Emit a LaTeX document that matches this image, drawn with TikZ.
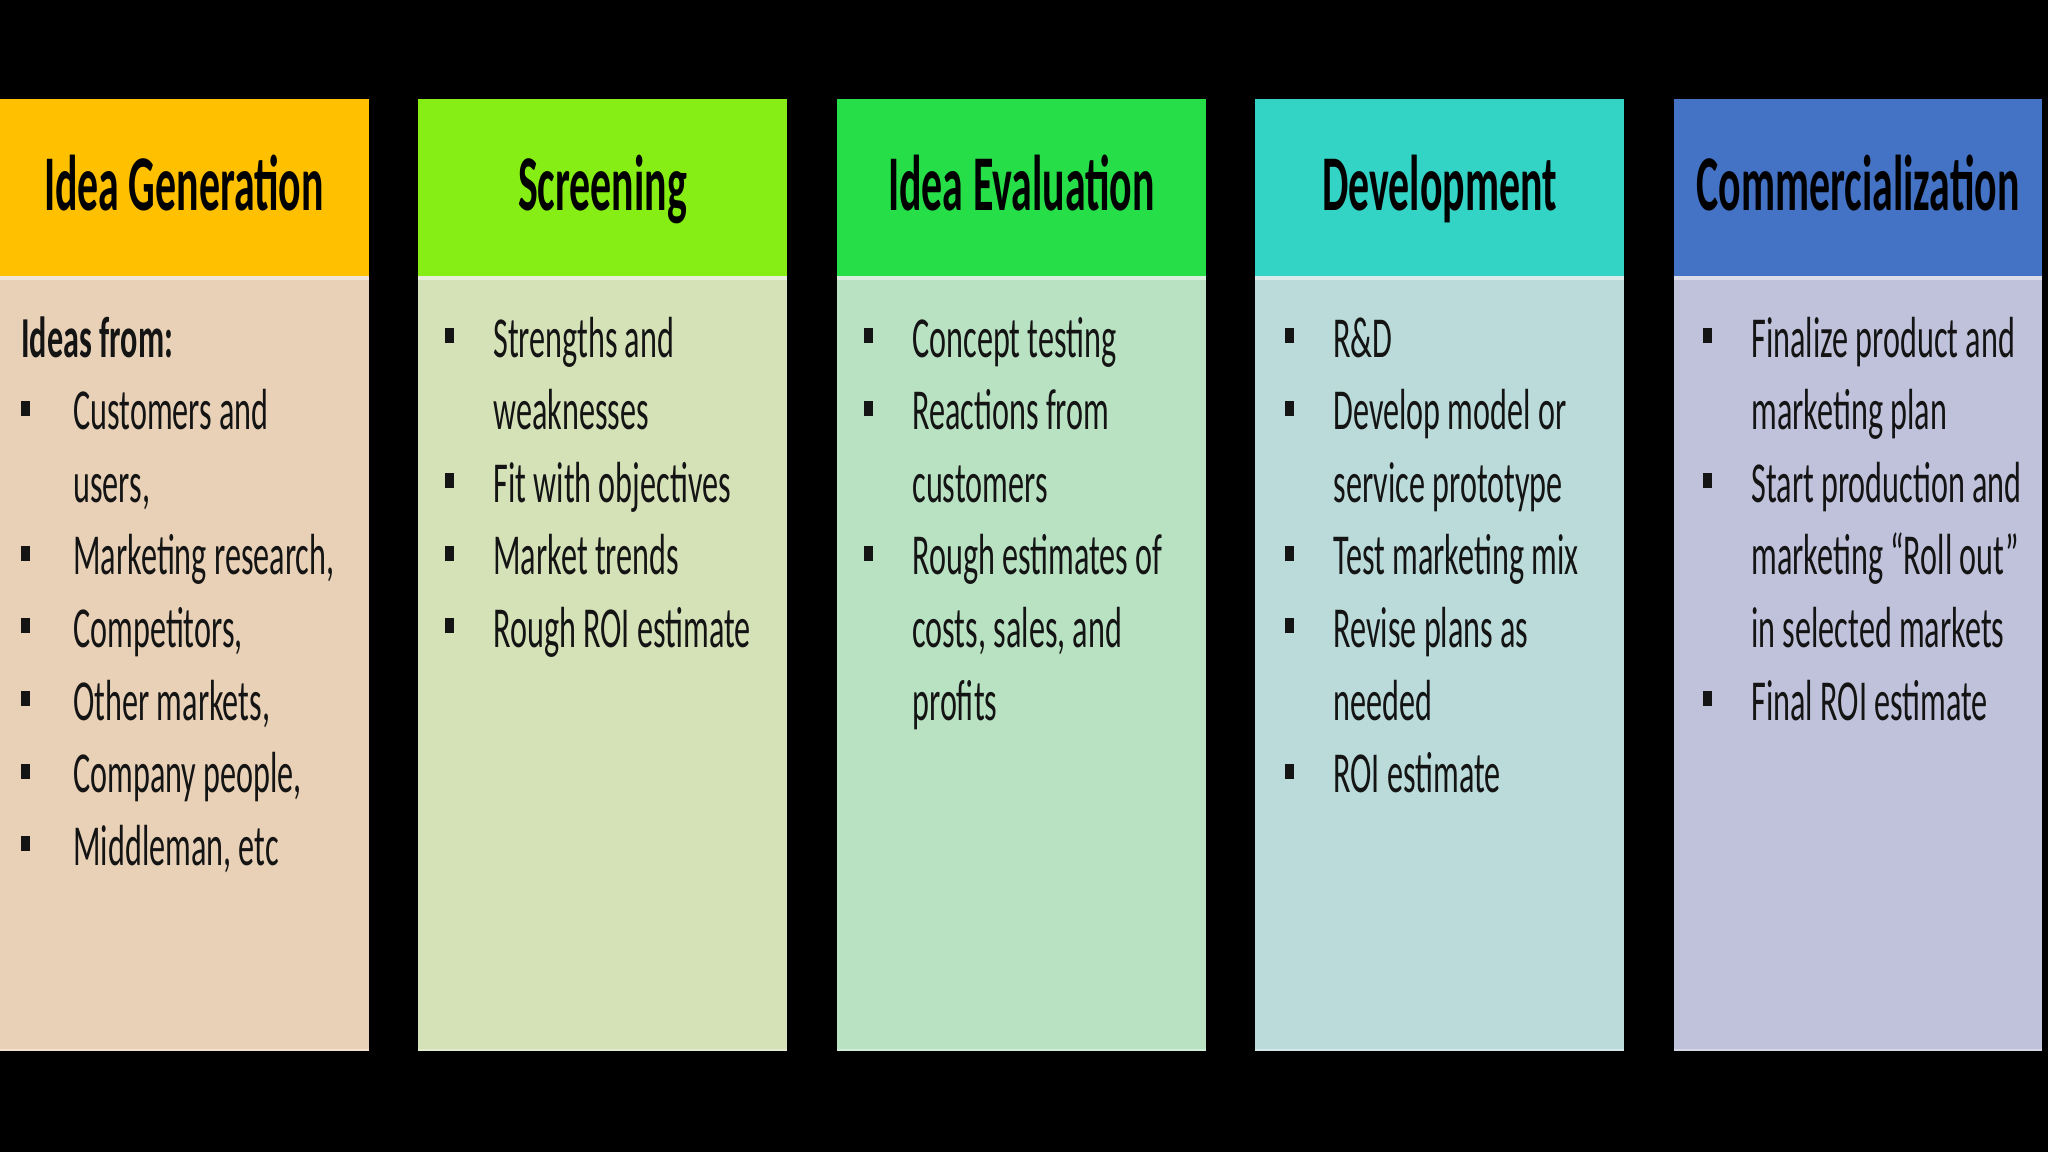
\documentclass[tikz,border=0pt]{standalone}
\usepackage{fontspec}
\newfontfamily\bodyfam[FakeStretch=0.555]{Carlito}
\newfontfamily\headfam[FakeStretch=0.53]{Carlito}
\definecolor{hA}{HTML}{FFC000}
\definecolor{hB}{HTML}{86EE14}
\definecolor{hC}{HTML}{25DE48}
\definecolor{hD}{HTML}{33D3C6}
\definecolor{hE}{HTML}{4472C4}
\definecolor{bA}{HTML}{E8D1B7}
\definecolor{bB}{HTML}{D5E2B8}
\definecolor{bC}{HTML}{B9E2C3}
\definecolor{bD}{HTML}{BADBD9}
\definecolor{bE}{HTML}{BFC2DA}
\definecolor{ink}{HTML}{141414}
\newlength\txtind \setlength\txtind{24pt}
\newcommand\bsq{\raisebox{7pt}{\rule{4.5pt}{7.5pt}}}
\newcommand\bitem[1]{\spaceskip=0pt\xspaceskip=0pt\hangindent=\txtind\hangafter=1\noindent\makebox[\txtind][l]{\bsq}#1\par}
\tikzset{
  hbox/.style={rectangle, inner sep=0, minimum height=88.5pt},
  bbox/.style={rectangle, inner sep=0, minimum height=387.5pt},
  title/.style={anchor=base, inner sep=0, font=\headfam\bfseries\fontsize{39.5}{45}\selectfont, text=black},
  btext/.style={anchor=base west, inner sep=0, text width=182pt, align=left,
     font=\bodyfam\fontsize{29}{36.3}\selectfont, text=ink},
  stripe/.style={white, opacity=0.45, line width=2pt}
}
\begin{document}
\begin{tikzpicture}[x=0.5pt,y=-0.5pt]
\fill[black] (0,0) rectangle (2048,1152);
\useasboundingbox (0,0) rectangle (2048,1152);
% column boxes
\node[hbox, fill=hA, minimum width=187pt] (h1) at (182,187.5) {};
\node[hbox, fill=hB, minimum width=184.5pt] (h2) at (602.5,187.5) {};
\node[hbox, fill=hC, minimum width=184.5pt] (h3) at (1021.5,187.5) {};
\node[hbox, fill=hD, minimum width=184.5pt] (h4) at (1439.5,187.5) {};
\node[hbox, fill=hE, minimum width=184pt] (h5) at (1858,187.5) {};
\node[bbox, fill=bA, minimum width=187pt] (b1) at (182,663.5) {};
\node[bbox, fill=bB, minimum width=184.5pt] (b2) at (602.5,663.5) {};
\node[bbox, fill=bC, minimum width=184.5pt] (b3) at (1021.5,663.5) {};
\node[bbox, fill=bD, minimum width=184.5pt] (b4) at (1439.5,663.5) {};
\node[bbox, fill=bE, minimum width=184pt] (b5) at (1858,663.5) {};
\foreach \i in {1,...,5}{
  \draw[stripe] ([yshift=-1pt]b\i.north west) -- ([yshift=-1pt]b\i.north east);
  \draw[white, opacity=0.35, line width=1pt] ([yshift=0.5pt]b\i.south west) -- ([yshift=0.5pt]b\i.south east);
}
% titles
\node[title] (t1) at (184,210) {Idea Generation};
\node[title] (t2) at (602.5,210) {Screening};
\node[title] (t3) at (1021.5,210) {Idea Evaluation};
\node[title] (t4) at (1439.5,210) {Development};
\node[title] (t5) at (1858,210) {Commercialization};
% body texts
\node[btext] (x1) at (21,357) {%
  \setlength\txtind{26pt}%
  \spaceskip=0pt\xspaceskip=0pt{\bfseries Ideas from:}\par
  \bitem{Customers and\newline users,}
  \bitem{Marketing research,}
  \bitem{Competitors,}
  \bitem{Other markets,}
  \bitem{Company people,}
  \bitem{Middleman, etc}};
\node[btext] (x2) at (445,357) {%
  \bitem{Strengths and\newline weaknesses}
  \bitem{Fit with objectives}
  \bitem{Market trends}
  \bitem{Rough ROI estimate}};
\node[btext] (x3) at (864,357) {%
  \bitem{Concept testing}
  \bitem{Reactions from\newline customers}
  \bitem{Rough estimates of\newline costs, sales, and\newline profits}};
\node[btext] (x4) at (1285,357) {%
  \bitem{R\&D}
  \bitem{Develop model or\newline service prototype}
  \bitem{Test marketing mix}
  \bitem{Revise plans as\newline needed}
  \bitem{ROI estimate}};
\node[btext] (x5) at (1703,357) {%
  \bitem{Finalize product and\newline marketing plan}
  \bitem{Start production and\newline marketing “Roll out”\newline in selected markets}
  \bitem{Final ROI estimate}};
\end{tikzpicture}
\end{document}
